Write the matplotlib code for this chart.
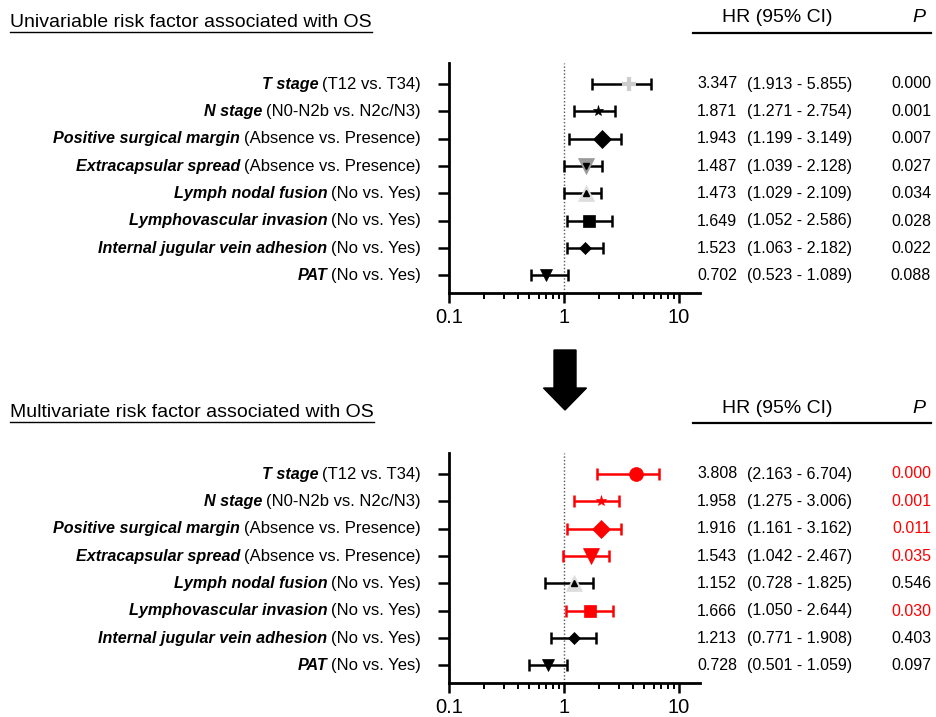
import matplotlib

matplotlib.use("Agg")
import matplotlib.pyplot as plt
from matplotlib.lines import Line2D
from matplotlib.patches import FancyArrow
import numpy as np

plt.rcParams["font.family"] = ["Liberation Sans", "DejaVu Sans"]

RED = "#ff0000"

factors = ["T stage", "N stage", "Positive surgical margin", "Extracapsular spread",
           "Lymph nodal fusion", "Lymphovascular invasion", "Internal jugular vein adhesion", "PAT"]
comparisons = ["(T12 vs. T34)", "(N0-N2b vs. N2c/N3)", "(Absence vs. Presence)", "(Absence vs. Presence)",
               "(No vs. Yes)", "(No vs. Yes)", "(No vs. Yes)", "(No vs. Yes)"]

# univariable: plotted point / CI, table text as printed
uni_hr = [3.70, 1.98, 2.12, 1.55, 1.54, 1.66, 1.52, 0.70]
uni_lo = [1.75, 1.22, 1.11, 1.00, 1.00, 1.055, 1.06, 0.52]
uni_hi = [5.75, 2.75, 3.15, 2.13, 2.10, 2.62, 2.20, 1.09]
uni_hr_txt = ["3.347", "1.871", "1.943", "1.487", "1.473", "1.649", "1.523", "0.702"]
uni_ci_txt = ["(1.913 - 5.855)", "(1.271 - 2.754)", "(1.199 - 3.149)", "(1.039 - 2.128)",
              "(1.029 - 2.109)", "(1.052 - 2.586)", "(1.063 - 2.182)", "(0.523 - 1.089)"]
uni_p_txt = ["0.000", "0.001", "0.007", "0.027", "0.034", "0.028", "0.022", "0.088"]
uni_sig = [False] * 8

multi_hr = [4.25, 2.10, 2.10, 1.71, 1.23, 1.68, 1.22, 0.72]
multi_lo = [1.93, 1.21, 1.06, 0.97, 0.68, 1.04, 0.77, 0.50]
multi_hi = [6.67, 3.02, 3.15, 2.47, 1.80, 2.66, 1.91, 1.07]
multi_hr_txt = ["3.808", "1.958", "1.916", "1.543", "1.152", "1.666", "1.213", "0.728"]
multi_ci_txt = ["(2.163 - 6.704)", "(1.275 - 3.006)", "(1.161 - 3.162)", "(1.042 - 2.467)",
                "(0.728 - 1.825)", "(1.050 - 2.644)", "(0.771 - 1.908)", "(0.501 - 1.059)"]
multi_p_txt = ["0.000", "0.001", "0.011", "0.035", "0.546", "0.030", "0.403", "0.097"]
multi_sig = [True, True, True, True, False, True, False, False]

# marker styles per row: (marker, size, face colour, inner marker size)
uni_markers = [("+", 10, "#cccccc", 0), ("*", 8, "black", 0), ("D", 9, "black", 0), ("v", 11, "#999999", 5),
               ("^", 11, "#dddddd", 5), ("s", 9, "black", 0), ("D", 6, "black", 0), ("v", 8, "black", 0)]
multi_markers = [("o", 10, RED, 0), ("*", 8, RED, 0), ("D", 9, RED, 0), ("v", 11, RED, 0),
                 ("^", 11, "#dddddd", 5), ("s", 9, RED, 0), ("D", 6, "black", 0), ("v", 8, "black", 0)]

W, H = 936, 717


def fx(px):
    return px / W


def fy(py):
    return 1 - py / H


def underline(fig, txt, y_px, lw=1.0):
    fig.canvas.draw()
    bb = txt.get_window_extent().transformed(fig.transFigure.inverted())
    fig.add_artist(Line2D([bb.x0, bb.x1], [fy(y_px), fy(y_px)], color="black", lw=lw,
                          transform=fig.transFigure))


def draw_panel(fig, top_px, title, hr, lo, hi, markers, hr_txt, ci_txt, p_txt, sig):
    ax = fig.add_axes([fx(449), fy(top_px + 230), fx(700) - fx(449), 230 / H])
    n = len(hr)
    ypos = np.arange(n, 0, -1)
    for i in range(n):
        mk, ms, fc, inner = markers[i]
        col = RED if sig[i] else "black"
        ax.errorbar(hr[i], ypos[i], xerr=[[hr[i] - lo[i]], [hi[i] - hr[i]]], fmt="none",
                    ecolor=col, elinewidth=1.8, capsize=4, capthick=1.8, zorder=2)
        ax.plot(hr[i], ypos[i], marker=mk, ms=ms, mfc=fc, mec=fc, mew=3 if mk == "+" else 0.5,
                ls="none", zorder=3)
        if inner:
            ax.plot(hr[i], ypos[i], marker=mk, ms=inner, color="black", ls="none", zorder=4)
    ax.axvline(1, color="#555555", ls=(0, (1, 1.5)), lw=1.0, zorder=1)
    ax.set_xscale("log")
    ax.set_xlim(0.1, 15.2)
    ax.set_ylim(0.35, 8.77)
    ax.set_xticks([0.1, 1, 10])
    ax.set_xticklabels(["0.1", "1", "10"], fontsize=14.5)
    ax.set_yticks(ypos)
    ax.set_yticklabels([])
    ax.tick_params(axis="x", which="major", length=7, width=1.8, pad=4)
    ax.tick_params(axis="x", which="minor", length=4, width=1.4)
    ax.tick_params(axis="y", length=8, width=1.8)
    for s in ["top", "right"]:
        ax.spines[s].set_visible(False)
    for s in ["left", "bottom"]:
        ax.spines[s].set_linewidth(2)

    # row labels: bold italic factor + plain comparison
    for i in range(n):
        y_px = top_px + 21 + i * 27.4
        reg = fig.text(fx(421), fy(y_px), comparisons[i], ha="right", va="center", fontsize=12)
        fig.canvas.draw()
        bb = reg.get_window_extent().transformed(fig.transFigure.inverted())
        fig.text(bb.x0 - fx(4), fy(y_px), factors[i], ha="right", va="center", fontsize=11.6,
                 fontweight="bold", fontstyle="italic")
        col = RED if sig[i] else "black"
        fig.text(fx(697), fy(y_px), hr_txt[i], ha="left", va="center", fontsize=11.5)
        fig.text(fx(747), fy(y_px), ci_txt[i], ha="left", va="center", fontsize=11.5)
        fig.text(fx(931), fy(y_px), p_txt[i], ha="right", va="center", fontsize=11.5, color=col)

    t = fig.text(fx(10), fy(top_px - 36), title, ha="left", va="baseline", fontsize=14)
    underline(fig, t, top_px - 31)
    fig.text(fx(777), fy(top_px - 45), "HR (95% CI)", ha="center", va="center", fontsize=14)
    fig.text(fx(919), fy(top_px - 45), "P", ha="center", va="center", fontsize=14, fontstyle="italic")
    fig.add_artist(Line2D([fx(693), fx(931)], [fy(top_px - 30), fy(top_px - 30)], color="black",
                          lw=1.6, transform=fig.transFigure))
    return ax


fig = plt.figure(figsize=(W / 100, H / 100), dpi=100)
draw_panel(fig, 63, "Univariable risk factor associated with OS", uni_hr, uni_lo, uni_hi,
           uni_markers, uni_hr_txt, uni_ci_txt, uni_p_txt, uni_sig)
draw_panel(fig, 453, "Multivariate risk factor associated with OS", multi_hr, multi_lo, multi_hi,
           multi_markers, multi_hr_txt, multi_ci_txt, multi_p_txt, multi_sig)

fig.add_artist(FancyArrow(fx(565), fy(350), 0, -(60 / H), width=22 / W, head_width=43 / W,
                          head_length=22 / H, length_includes_head=True, color="black",
                          transform=fig.transFigure))

fig.savefig("out.png", dpi=100)
